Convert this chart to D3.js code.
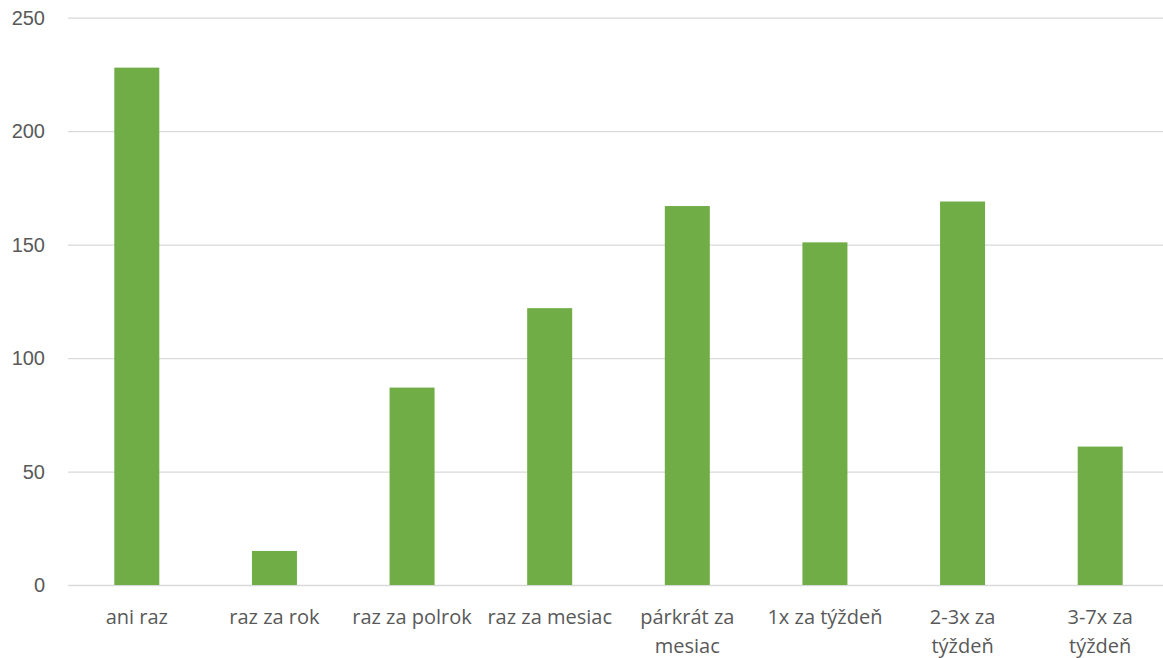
<!DOCTYPE html>
<html>
<head>
<meta charset="utf-8">
<script src="https://cdn.jsdelivr.net/npm/d3@7"></script>
<style>
  body { margin: 0; background: #fff; }
  svg { display: block; font-family: "Open Sans", "Liberation Sans", sans-serif; }
</style>
</head>
<body>
<svg id="chart"></svg>
<script>
// categories (second line of a label after \n)
const categories = ['ani raz', 'raz za rok', 'raz za polrok', 'raz za mesiac',
  'párkrát za\nmesiac', '1x za týždeň', '2-3x za\ntýždeň', '3-7x za\ntýždeň'];
const values = [228, 15, 87, 122, 167, 151, 169, 61];
const yTicks = [0, 50, 100, 150, 200, 250];

const w = 1163, h = 658;
const plotLeft = 68, plotRight = 1169, plotTop = 17.7, plotBottom = 585;

const svg = d3.select('#chart')
  .attr('width', w)
  .attr('height', h);

const x = d3.scaleBand()
  .domain(categories)
  .range([plotLeft, plotRight])
  .paddingInner(0.673)
  .paddingOuter(0.3365);

const y = d3.scaleLinear()
  .domain([0, 250])
  .range([plotBottom, plotTop]);

// gridlines + y labels
const yAxis = d3.axisLeft(y)
  .tickValues(yTicks)
  .tickSize(-(w - plotLeft))
  .tickPadding(23);

const gy = svg.append('g')
  .attr('transform', `translate(${plotLeft},0)`)
  .call(yAxis);
gy.select('.domain').remove();
gy.selectAll('.tick line')
  .attr('stroke', '#d9d9d9')
  .attr('stroke-width', 1.3);
gy.selectAll('.tick text')
  .attr('fill', '#595959')
  .attr('font-size', 20)
  .attr('dy', '0.34em');

// bars
svg.selectAll('.bar')
  .data(values)
  .join('rect')
  .attr('class', 'bar')
  .attr('x', (d, i) => x(categories[i]))
  .attr('width', x.bandwidth())
  .attr('y', d => y(d))
  .attr('height', d => y(0) - y(d))
  .attr('fill', '#70ad47');

// x labels
const gx = svg.append('g');
categories.forEach(c => {
  const t = gx.append('text')
    .attr('x', x(c) + x.bandwidth() / 2)
    .attr('y', 624)
    .attr('text-anchor', 'middle')
    .attr('fill', '#595959')
    .attr('font-size', 20);
  c.split('\n').forEach((line, k) => {
    t.append('tspan')
      .attr('x', x(c) + x.bandwidth() / 2)
      .attr('dy', k === 0 ? 0 : 28.5)
      .text(line);
  });
});
</script>
</body>
</html>
